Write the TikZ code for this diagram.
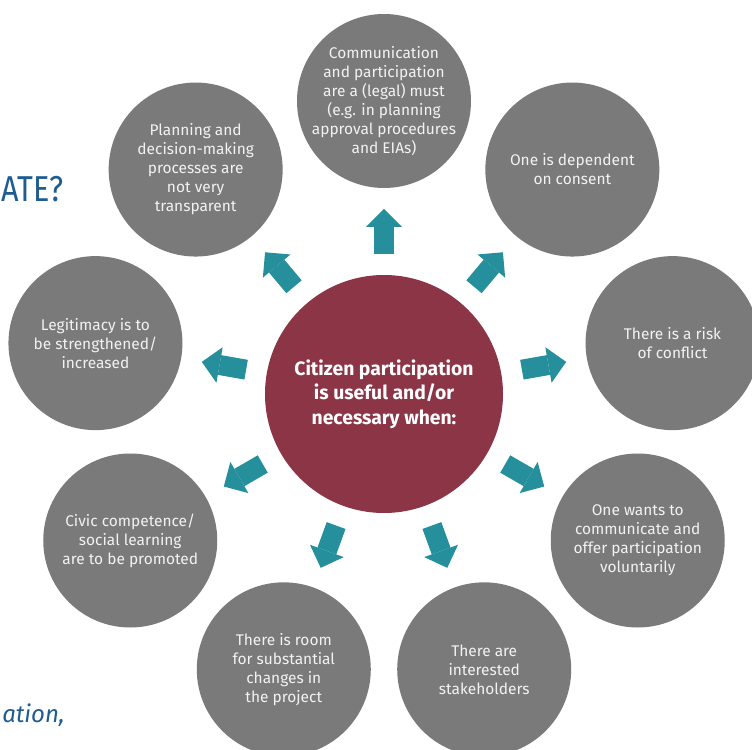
\documentclass[tikz,border=0pt]{standalone}
\usepackage{fontspec}
\setmainfont{Fira Sans}
\usetikzlibrary{arrows.meta}
\definecolor{bubgray}{HTML}{7A7A7A}
\definecolor{wine}{HTML}{8C3547}
\definecolor{petrol}{HTML}{25909C}
\definecolor{navy}{HTML}{1F5C8F}
\definecolor{paper}{HTML}{F2F2F2}
\begin{document}
\begin{tikzpicture}[x=0.75pt,y=0.75pt,
 b/.style={circle,fill=bubgray,minimum size=130.5pt,inner sep=0pt,outer sep=0pt},
 t/.style={text=paper,align=center,font=\fontsize{11.6}{14.25}\selectfont},
 m/.style={circle,fill=wine,minimum size=178.5pt,inner sep=0pt,outer sep=0pt,text=white,align=center,font=\fontsize{14.5}{18.4}\selectfont\bfseries},
 a/.style={petrol,line width=15pt,shorten <=15.75pt,shorten >=15.75pt,-{Triangle[width=27pt,length=13.5pt,line width=0pt]}}]
\useasboundingbox[fill=white](-384,-355) rectangle (368,394);
% heading and footnote leftovers at the left edge
\node[anchor=base west,text=navy,font=\fontsize{27}{30}\selectfont,inner sep=0pt,xscale=0.85](hd) at (-383,192){ATE?};
\node[anchor=base west,text=navy,font=\fontsize{18}{20}\selectfont\itshape,inner sep=0pt](ft) at (-382,-328){ation,};
% hub and ring of reasons
\node[m](c) at (0,0){Citizen participation\\is useful and/or\\necessary when:};
\node[b,label={[t]center:{Communication\\and participation\\are a (legal) must\\(e.g. in planning\\approval procedures\\and EIAs)}}](n1) at (90:293){};
\node[b,label={[t]center:{One is dependent\\on consent}}](n2) at (50:293){};
\node[b,label={[t]center:{There is a risk\\of conflict}}](n3) at (10:293){};
\node[b,label={[t]center:{One wants to\\communicate and\\offer participation\\voluntarily}}](n4) at (-30:293){};
\node[b,label={[t]center:{There are\\interested\\stakeholders}}](n5) at (-70:293){};
\node[b,label={[t]center:{There is room\\for substantial\\changes in\\the project}}](n6) at (-110:293){};
\node[b,label={[t]center:{Civic competence/\\social learning\\are to be promoted}}](n7) at (-150:293){};
\node[b,label={[t]center:{Legitimacy is to\\be strengthened/\\increased}}](n8) at (170:293){};
\node[b,label={[t]center:{Planning and\\decision-making\\processes are\\not very\\transparent}}](n9) at (130:293){};
\draw[a](c)--(n1);\draw[a](c)--(n2);\draw[a](c)--(n3);
\draw[a](c)--(n4);\draw[a](c)--(n5);\draw[a](c)--(n6);
\draw[a](c)--(n7);\draw[a](c)--(n8);\draw[a](c)--(n9);
\end{tikzpicture}
\end{document}
